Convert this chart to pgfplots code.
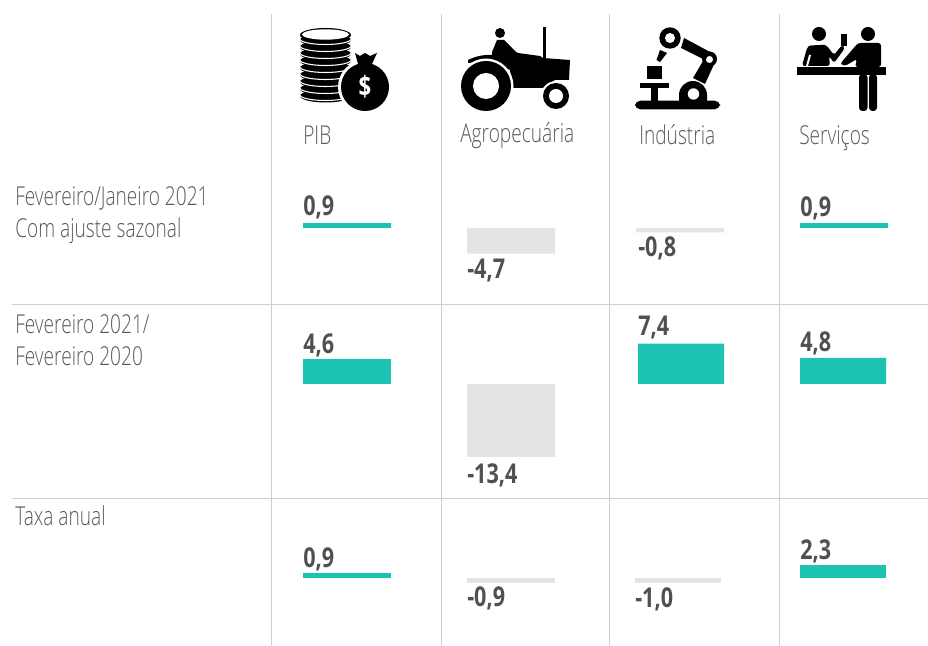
\documentclass[border=0pt]{standalone}
\usepackage{fontspec}
\usepackage{pgfplots}
\pgfplotsset{compat=1.18}
\setmainfont{Open Sans Light}[FakeStretch=0.735]
\newfontfamily\boldf{Open Sans Bold}[FakeStretch=0.79]
\definecolor{teal}{HTML}{1CC2B2}
\definecolor{neg}{HTML}{E4E4E4}
\definecolor{rule}{HTML}{CFCFCF}
\definecolor{txt}{HTML}{5A5A5A}
\definecolor{val}{HTML}{505050}
\newcommand{\lab}[3]{\node[anchor=base west,inner sep=0pt,text=txt,font=\fontsize{19.5}{20}\selectfont] at (axis cs:#1,#2) {#3};}
\newcommand{\val}[3]{\node[anchor=base west,inner sep=0pt,text=val,font=\boldf\fontsize{20.5}{20}\selectfont] at (axis cs:#1,#2) {#3};}
\pgfplotsset{frame/.style={at={(0,0)},anchor=south west,scale only axis,width=696pt,height=484.5pt,hide axis,xmin=0,xmax=928,clip=false},
 b/.style={ybar,bar shift=0pt,draw=none,fill=#1,bar width=66pt},
 c/.style={ybar,bar shift=0pt,draw=none,fill=#1,bar width=64.5pt}}
\begin{document}
\begin{tikzpicture}
\path[use as bounding box] (0,0) rectangle (696pt,484.5pt);
% frame: rules and text, in pixel coordinates
\begin{axis}[frame,ymin=0,ymax=646,y dir=reverse]
\addplot[rule,line width=0.75pt] coordinates {(271,14)(271,646)};
\addplot[rule,line width=0.75pt] coordinates {(441,14)(441,646)};
\addplot[rule,line width=0.75pt] coordinates {(609,14)(609,646)};
\addplot[rule,line width=0.75pt] coordinates {(779,14)(779,646)};
\addplot[rule,line width=0.75pt] coordinates {(12,304)(928,304)};
\addplot[rule,line width=0.75pt] coordinates {(12,498)(928,498)};
\lab{303}{144}{PIB}
\lab{460}{142}{Agropecuária}
\lab{639}{144}{Indústria}
\lab{799}{144}{Serviços}
\lab{15}{205}{Fevereiro/Janeiro 2021}
\lab{15}{237}{Com ajuste sazonal}
\lab{15}{333}{Fevereiro 2021/}
\lab{15}{365}{Fevereiro 2020}
\lab{15}{525}{Taxa anual}
\val{303}{215}{0,9}
\val{467}{278}{-4,7}
\val{638}{256}{-0,8}
\val{800}{216}{0,9}
\val{303}{353}{4,6}
\val{467}{483}{-13,4}
\val{638}{335}{7,4}
\val{800}{351}{4,8}
\val{303}{567}{0,9}
\val{467}{606}{-0,9}
\val{635}{607}{-1,0}
\val{800}{559}{2,3}
\end{axis}
% row 1
\begin{axis}[frame,ymin=-76.697,ymax=41.835]
\addplot[b=teal] coordinates {(347,0.9)(844,0.9)};
\addplot[b=neg] coordinates {(511,-4.7)(680,-0.8)};
\end{axis}
% row 2
\begin{axis}[frame,ymin=-48.073,ymax=70.459]
\addplot[b=teal] coordinates {(347,4.6)};
\addplot[b=neg] coordinates {(511,-13.4)};
\addplot[c=teal] coordinates {(681,7.4)(843,4.8)};
\end{axis}
% row 3
\begin{axis}[frame,ymin=-12.477,ymax=106.055]
\addplot[b=teal] coordinates {(347,0.9)};
\addplot[b=neg] coordinates {(511,-0.9)};
\addplot[c=neg] coordinates {(678,-1.0)};
\addplot[c=teal] coordinates {(843,2.3)};
\end{axis}
% icons, in pixel coordinates
\begin{scope}[x=0.75pt,y=-0.75pt,shift={(0pt,484.5pt)}]
% coins
\foreach \yy in {96,89,82,75,68,61,54,47,40}{
  \fill[black] (325.5,\yy) ellipse (25.5 and 6.5);
  \draw[white,line width=0.8pt] (300,\yy-1) arc (180:0:25.5 and 5.5);
}
\fill[black] (325.5,35) ellipse (25.5 and 7);
\fill[white] (325.5,34.5) ellipse (23.5 and 5.2);
% bag
\fill[white] (365,87) circle (27);
\fill[black] (365,87) circle (24);
\fill[black] (355,53) -- (360,56) -- (365,53) -- (370,56) -- (377,53) -- (372,64) -- (376,67) -- (354,67) -- (358,64) -- cycle;
\node[white,font=\boldf\fontsize{21}{20}\selectfont] at (365,87) {\$};
% tractor
\fill[black] (468,60) .. controls (480,54) and (490,55) .. (492,55) -- (492,52) -- (497,40) -- (504,40) -- (516,52) -- (518,53) -- (540,56) -- (543,58) -- (570,60) -- (569,80) -- (555,80) -- (543,88) -- (512,88) -- (510,70) -- (495,63) -- (480,62) -- (468,63) -- cycle;
\fill[black] (500,33) circle (5);
\fill[black] (542.5,27) rectangle (545.5,60);
\fill[white] (486,86) circle (27.5);
\fill[black] (486,86) circle (25);
\fill[white] (486,86) circle (13);
\fill[white] (556,96) circle (15);
\fill[black] (556,96) circle (13);
\fill[white] (556,96) circle (7);
% robot
\fill[black,rounded corners=4pt] (635,100.7) rectangle (720,109.3);
\fill[black] (651,88) rectangle (658,101);
\fill[black] (640,82.7) rectangle (669,88);
\fill[black] (647,66) rectangle (662,79.5);
\fill[black] (679,102) -- (679,95) arc (180:360:14) -- (707,102) -- cycle;
\fill[white] (693.5,94) circle (5.7);
\fill[black] (693,78) -- (706,56) -- (716,60) -- (705,84) -- cycle;
\fill[black] (709.5,59) circle (7.5);
\fill[white] (709.5,59.5) circle (3.5);
\fill[black] (684,38) -- (710,52) -- (705,60) -- (681,48) -- cycle;
\fill[black] (670,38) circle (10.7);
\fill[white] (670,38) circle (5);
\fill[black] (660,50) -- (667,53) -- (660,62) -- (656.5,60) -- cycle;
% services
\fill[black] (797,67.5) rectangle (886,75);
\fill[black] (819,34) circle (7);
\fill[black] (868,34) circle (7);
\fill[black] (841,34) rectangle (847,46);
\fill[black,rounded corners=2pt] (802,66) -- (807,48) .. controls (810,45) and (825,45) .. (827,46) -- (834,55) -- (842,45) -- (845,48) -- (834,63) -- (829,56) -- (830,66) -- cycle;
\fill[white] (809,55) -- (811,55) -- (808,66) -- (806,66) -- cycle;
\fill[black,rounded corners=2pt] (840,64) -- (858,43) -- (881,43) -- (881,67) -- (855,67) -- (857,59) -- (845,66) -- cycle;
\fill[black,rounded corners=2.5pt] (859,74) rectangle (867.5,111);
\fill[black,rounded corners=2.5pt] (869,74) rectangle (877,111);
\end{scope}
\end{tikzpicture}
\end{document}
